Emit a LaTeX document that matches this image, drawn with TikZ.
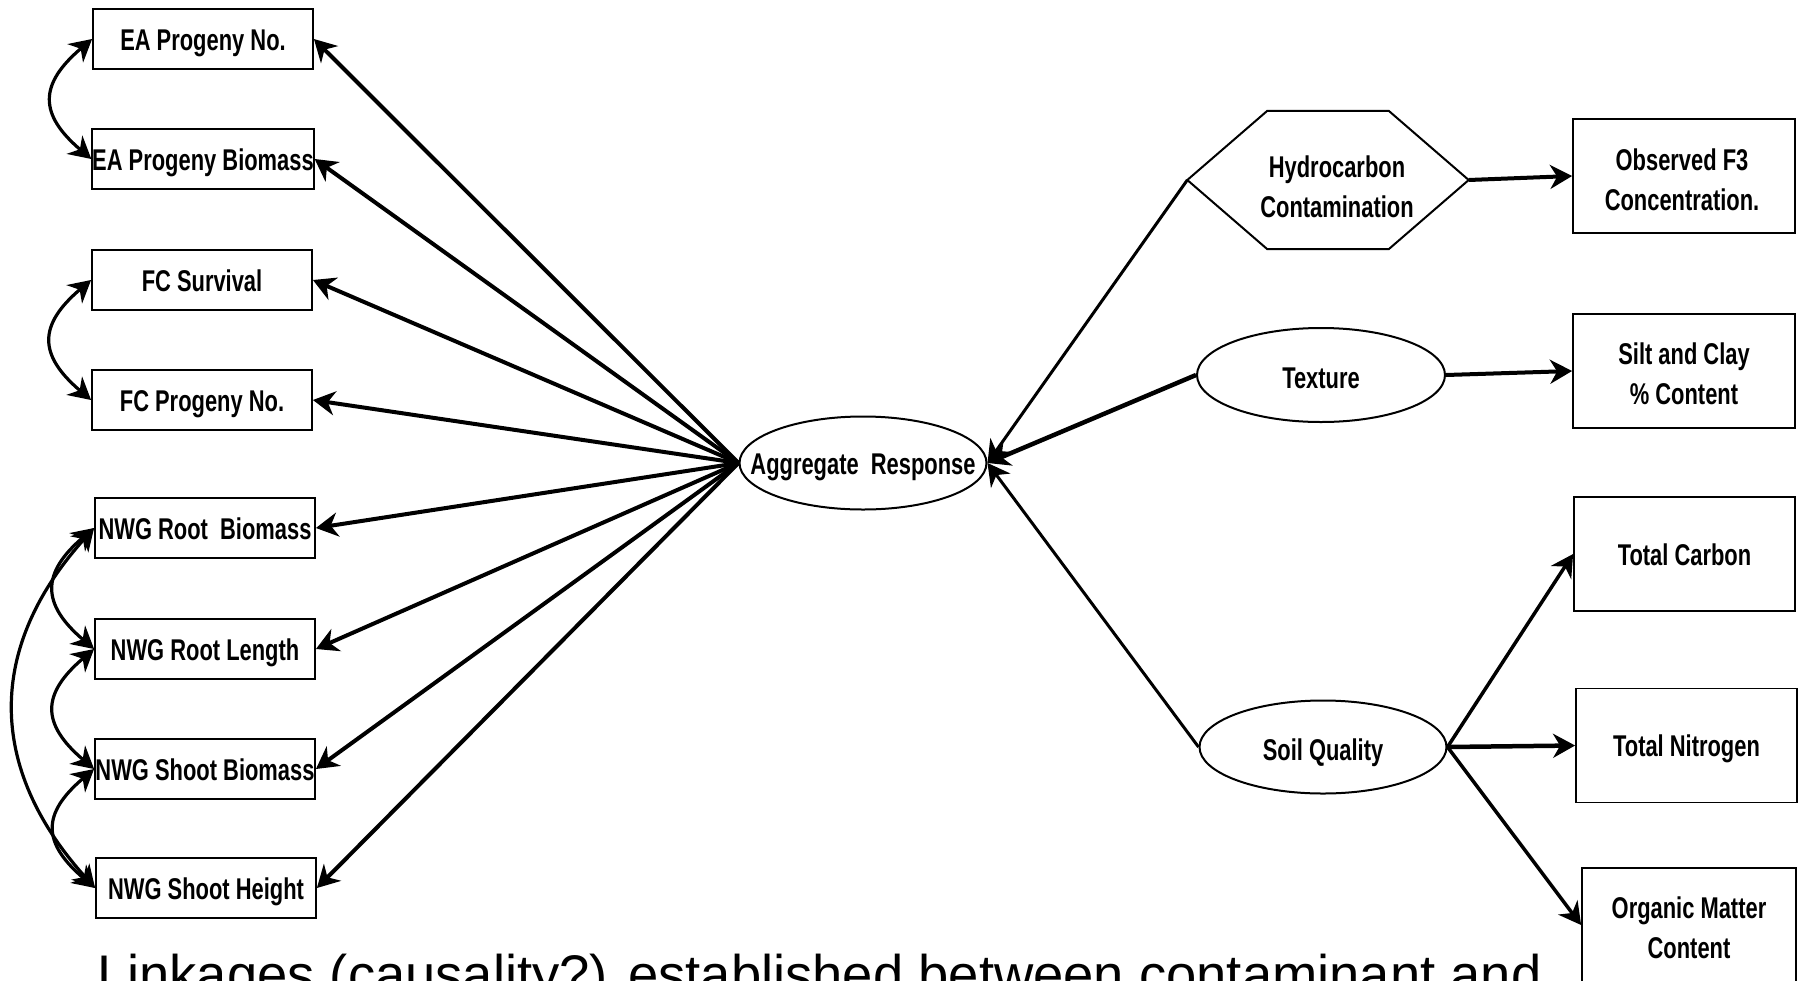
\documentclass[tikz,border=0pt]{standalone}
\usepackage{fontspec}
\setmainfont{Liberation Sans}
\newfontfamily\condfont[FakeStretch=0.73]{Liberation Sans}
\usetikzlibrary{arrows.meta,shapes.geometric,calc}
\newcommand\lbltext{\condfont\bfseries\fontsize{30}{40}\selectfont}
\tikzset{
  lbox/.style={draw, line width=1.8pt, minimum width=220pt, minimum height=60pt, inner sep=0pt, font=\lbltext, text height=22pt, text depth=0pt},
  rbox/.style={draw, line width=1.8pt, minimum width=222pt, minimum height=114pt, inner sep=0pt, align=center, font=\lbltext},
  one/.style={text height=22pt, text depth=0pt},
  ell/.style={draw, ellipse, line width=2pt, minimum width=247pt, minimum height=93pt, inner sep=0pt},
  lbl/.style={font=\lbltext, align=center, inner sep=0pt},
  fan/.style={->, line width=4pt},
  link/.style={->, line width=4pt},
  corr/.style={<->, line width=3.2pt}
}
\begin{document}
\begin{tikzpicture}[x=1pt, y=-1pt, >={Stealth[length=22pt,width=24pt,inset=7pt]}]
\useasboundingbox (0,0) rectangle (1798,980);
\clip (0,0) rectangle (1798,980);

% left boxes
\node[lbox] (ea1) at (203,39) {EA Progeny No.};
\node[lbox] (ea2) at (203,159) {EA Progeny Biomass};
\node[lbox] (fc1) at (202,280) {FC Survival};
\node[lbox] (fc2) at (202,400) {FC Progeny No.};
\node[lbox] (nw1) at (205,528) {NWG Root~ Biomass};
\node[lbox] (nw2) at (205,649) {NWG Root Length};
\node[lbox] (nw3) at (205,769) {NWG Shoot Biomass};
\node[lbox] (nw4) at (206,888) {NWG Shoot Height};

% central latent
\node[ell] (agg) at (863,463) {};
\node[lbl, one] (aggt) at (agg.center) {Aggregate~ Response};

% hexagon
\node[minimum width=281pt, minimum height=138pt, inner sep=0pt] (hc) at (1328,180) {};
\draw[line width=2pt] (hc.west) -- ($(hc.north west)+(80,0)$) -- ($(hc.north east)+(-80,0)$)
  -- (hc.east) -- ($(hc.south east)+(-80,0)$) -- ($(hc.south west)+(80,0)$) -- cycle;
\node[lbl] (hct) at (1337,187) {Hydrocarbon\\Contamination};

% ellipses right
\node[ell, minimum width=248pt, minimum height=94pt] (tex) at (1321,375) {};
\node[lbl, one] (text) at ($(tex.center)+(0,2)$) {Texture};
\node[ell] (soil) at (1323,747) {};
\node[lbl, one] (soilt) at ($(soil.center)+(0,2)$) {Soil Quality};

% right boxes
\node[rbox] (f3) at (1684,176) {};
\node[lbl] (f3t) at (1682,180) {Observed F3\\Concentration.};
\node[rbox] (silt) at (1684,371) {};
\node[lbl] (siltt) at (1684,374) {Silt and Clay\\\% Content};
\node[rbox, minimum width=221pt, one] (tc) at (1684.5,554) {Total Carbon};
\node[rbox, minimum width=221pt, one] (tn) at (1686.5,745.5) {Total Nitrogen};
\node[rbox, minimum width=214pt] (om) at (1689,925) {};
\node[lbl] (omt) at (1689,928) {Organic Matter\\Content};

% fan arrows
\foreach \n in {ea1,ea2,fc1,fc2,nw1,nw2,nw3,nw4}
  \draw[fan] (agg.west) -- (\n.east);

% arrows into aggregate
\draw[fan, line width=3pt] (hc.west) -- (agg.east);
\draw[fan, line width=4.5pt] (tex.west) -- (agg.east);
\draw[fan, line width=3pt] (soil.west) -- (agg.east);

% indicator arrows
\draw[link] (hc.east) -- (f3.west);
\draw[link] (tex.east) -- (silt.west);
\draw[link, line width=3.5pt] (soil.east) -- (tc.west);
\draw[link, line width=4.5pt] (soil.east) -- (tn.west);
\draw[link, line width=3.5pt] (soil.east) -- (om.west);

% correlations
\draw[corr] (ea1.west) .. controls +(-53,45) and +(-53,-45) .. (ea2.west);
\draw[corr] (fc1.west) .. controls +(-53,45) and +(-53,-45) .. (fc2.west);
\draw[corr] (nw1.west) .. controls +(-53,45) and +(-53,-45) .. (nw2.west);
\draw[corr] (nw2.west) .. controls +(-53,45) and +(-53,-45) .. (nw3.west);
\draw[corr] (nw3.west) .. controls +(-53,45) and +(-53,-45) .. (nw4.west);
\draw[corr] (nw1.west) .. controls +(-108,120) and +(-108,-120) .. (nw4.west);

% caption
\node[anchor=base west, inner sep=0pt, font=\fontsize{54.4}{60}\selectfont] (cap) at (97,993)
  {Linkages (causality?) established between contaminant and};
\end{tikzpicture}
\end{document}
